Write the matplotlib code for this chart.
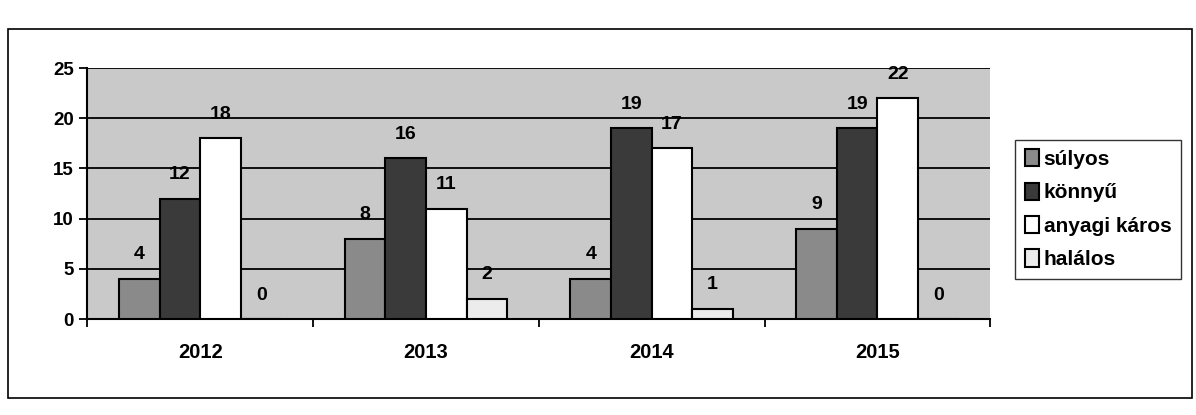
import numpy as np
import matplotlib.pyplot as plt
from matplotlib.patches import Rectangle

years = ['2012', '2013', '2014', '2015']
series = ['súlyos', 'könnyű', 'anyagi káros', 'halálos']
sulyos = [4, 8, 4, 9]
konnyu = [12, 16, 19, 19]
anyagi = [18, 11, 17, 22]
halalos = [0, 2, 1, 0]
colors = ['#8a8a8a', '#3a3a3a', '#ffffff', '#ececec']

plt.rcParams['font.family'] = 'Liberation Sans'
plt.rcParams['font.weight'] = 'bold'

fig = plt.figure(figsize=(11.96, 4.15), dpi=100)
fig.patches.append(Rectangle((0.007, 0.04), 0.99, 0.89, transform=fig.transFigure,
                             fill=False, edgecolor='black', lw=1.2))
ax = fig.add_axes([0.073, 0.231, 0.755, 0.605])
ax.set_facecolor('#c9c9c9')

x = np.arange(len(years))
w = 0.18
data = [sulyos, konnyu, anyagi, halalos]
for i, (vals, c, name) in enumerate(zip(data, colors, series)):
    pos = x + (i - 1.5) * w
    ax.bar(pos, vals, w, color=c, edgecolor='black', linewidth=1.5, label=name, zorder=3)
    for p, v in zip(pos, vals):
        ax.text(p, v + 2.4, str(v), ha='center', va='center',
                fontsize=14, fontweight='bold', zorder=4)

ax.set_ylim(0, 25)
ax.set_xlim(-0.5, 3.5)
ax.set_yticks(range(0, 26, 5))
ax.yaxis.grid(True, color='black', lw=1.3, zorder=1)
ax.set_xticks(x)
ax.set_xticklabels(years)
ax.set_xticks(np.arange(-0.5, 4, 1), minor=True)
ax.tick_params(axis='x', which='major', length=0, pad=17, labelsize=14.5)
ax.tick_params(axis='x', which='minor', length=6, width=1.3)
ax.tick_params(axis='y', length=6, width=1.3, labelsize=13.5)
for s in ['top', 'right']:
    ax.spines[s].set_visible(False)
for s in ['left', 'bottom']:
    ax.spines[s].set_linewidth(1.5)

fig.legend(loc='center left', bbox_to_anchor=(0.849, 0.496), frameon=True, fancybox=False,
           edgecolor='black', fontsize=15, handlelength=0.7, handleheight=0.9,
           handletextpad=0.2, labelspacing=0.65, borderpad=0.45, borderaxespad=0)

fig.savefig('out.png', dpi=100)
